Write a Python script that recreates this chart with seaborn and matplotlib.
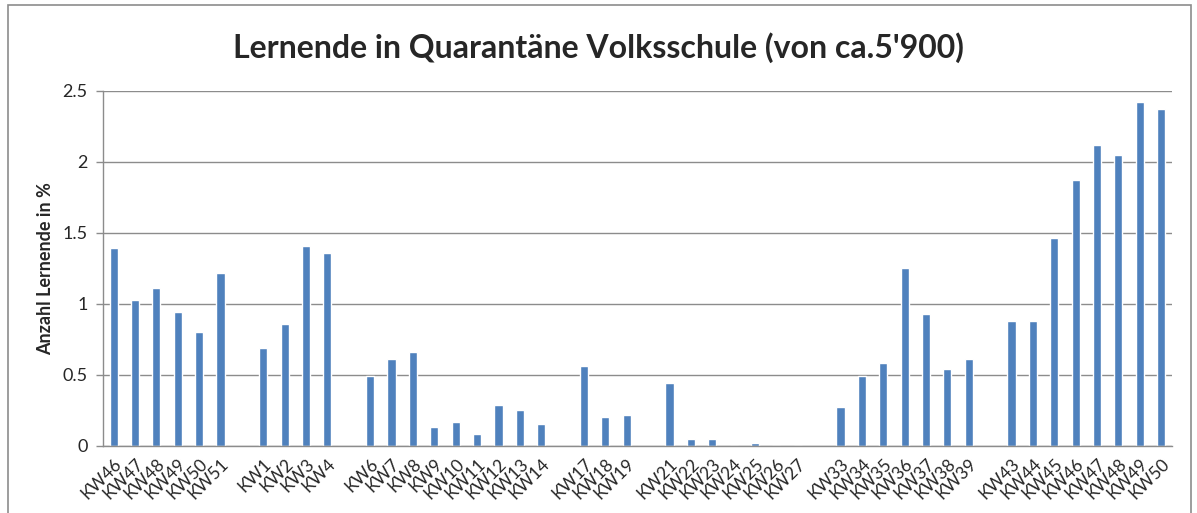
import numpy as np
import pandas as pd
import seaborn as sns
import matplotlib.pyplot as plt
from matplotlib.patches import Rectangle

# week labels; "" marks an empty slot on the axis
weeks = ["KW46", "KW47", "KW48", "KW49", "KW50", "KW51", "",
         "KW1", "KW2", "KW3", "KW4", "",
         "KW6", "KW7", "KW8", "KW9", "KW10", "KW11", "KW12", "KW13", "KW14", "",
         "KW17", "KW18", "KW19", "",
         "KW21", "KW22", "KW23", "KW24", "KW25", "KW26", "KW27", "",
         "KW33", "KW34", "KW35", "KW36", "KW37", "KW38", "KW39", "",
         "KW43", "KW44", "KW45", "KW46", "KW47", "KW48", "KW49", "KW50"]
percent = [1.39, 1.03, 1.11, 0.94, 0.80, 1.22, np.nan,
           0.69, 0.86, 1.41, 1.36, np.nan,
           0.49, 0.61, 0.66, 0.13, 0.17, 0.08, 0.29, 0.25, 0.15, np.nan,
           0.56, 0.20, 0.22, np.nan,
           0.44, 0.05, 0.05, 0.0, 0.02, 0.0, 0.0, np.nan,
           0.27, 0.49, 0.58, 1.25, 0.93, 0.54, 0.61, np.nan,
           0.88, 0.88, 1.46, 1.87, 2.12, 2.05, 2.42, 2.37]

df = pd.DataFrame({"slot": [str(i) for i in range(len(weeks))], "pct": percent})

sns.set_style("white")
plt.rcParams['font.family'] = ['Lato', 'DejaVu Sans']

fig = plt.figure(figsize=(11.97, 5.13), dpi=100)
ax = fig.add_axes([0.086, 0.131, 0.893, 0.692])

sns.barplot(data=df, x="slot", y="pct", color="#4F81BD", width=0.38,
            saturation=1, ax=ax, order=df["slot"])

ax.set_ylim(0, 2.5)
ax.set_xlim(-0.5, len(weeks) - 0.5)
ax.set_yticks(np.arange(0, 2.51, 0.5))
ax.set_yticklabels(["0", "0.5", "1", "1.5", "2", "2.5"], fontsize=13)
ax.yaxis.grid(True, color="#8c8c8c", linewidth=1)
ax.set_axisbelow(True)

ax.set_xticks(range(len(weeks)))
ax.set_xticklabels(weeks, rotation=45, ha="right", rotation_mode="anchor", fontsize=12.5)
ax.set_xticks(np.arange(-0.5, len(weeks), 1), minor=True)
ax.tick_params(axis="x", which="major", length=0, pad=7)
ax.tick_params(axis="x", which="minor", length=5, color="#8c8c8c", width=1)
ax.tick_params(axis="y", length=5, color="#8c8c8c", width=1, direction="out", left=True, pad=6)

for s in ["top", "right"]:
    ax.spines[s].set_visible(False)
for s in ["left", "bottom"]:
    ax.spines[s].set_color("#8c8c8c")
    ax.spines[s].set_linewidth(1)

ax.set_xlabel("")
ax.set_ylabel("Anzahl Lernende in %", fontsize=13, fontweight="bold", labelpad=6)

fig.text(0.5, 0.907, "Lernende in Quarantäne Volksschule (von ca.5'900)",
         ha="center", va="center", fontsize=23, fontweight="bold")

fig.patches.append(Rectangle((0.007, -0.05), 0.988, 1.04, transform=fig.transFigure,
                             fill=False, edgecolor="#8c8c8c", linewidth=1.2))

fig.savefig("out.png", dpi=100)
